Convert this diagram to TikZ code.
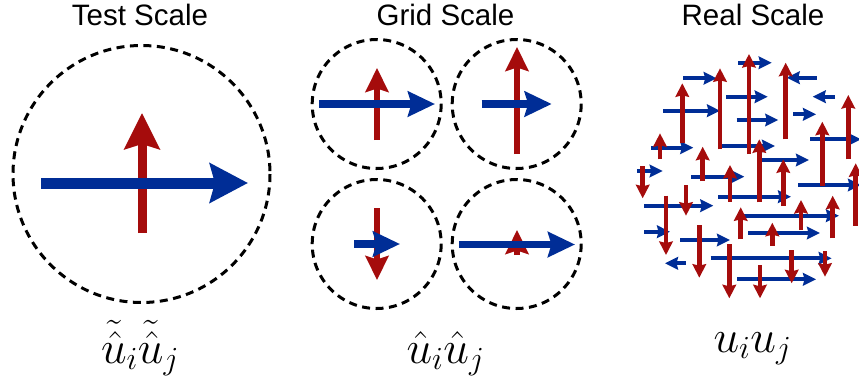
\RequirePackage{fix-cm}
\documentclass[tikz,border=0pt]{standalone}
\usepackage{fontspec}
\newfontfamily\headfont{Liberation Sans}
\usetikzlibrary{arrows.meta}
\definecolor{arrred}{RGB}{165,12,12}
\definecolor{arrblue}{RGB}{0,45,150}
\tikzset{
  dashcirc/.style={draw=black, line width=3pt, dash pattern=on 8pt off 5.5pt},
  title/.style={anchor=base, inner sep=0pt, font=\headfont\fontsize{29.5}{32}\selectfont},
  mathlab/.style={anchor=base, inner sep=0pt, font=\fontsize{46}{50}\selectfont},
  testblue/.style={draw=arrblue, line width=11pt, -{Stealth[length=38pt,width=39pt,inset=5pt]}},
  testred/.style={draw=arrred, line width=9pt, -{Stealth[length=36pt,width=35pt,inset=5pt]}},
  gridblue/.style={draw=arrblue, line width=7.5pt, -{Stealth[length=27pt,width=25pt,inset=3.5pt]}},
  gridred/.style={draw=arrred, line width=6.5pt, -{Stealth[length=24pt,width=23pt,inset=3.5pt]}},
  realblue/.style={draw=arrblue, line width=4pt, -{Stealth[length=13pt,width=12.5pt,inset=1.5pt]}},
  realred/.style={draw=arrred, line width=4.5pt, -{Stealth[length=13.5pt,width=13.5pt,inset=1.5pt]}},
}
\begin{document}
\begin{tikzpicture}[x=1pt,y=-1pt]
\useasboundingbox (0,0) rectangle (859,381);
\clip (0,0) rectangle (859,381);
% titles
\node[title] (t1) at (140,25) {Test Scale};
\node[title] (t2) at (445.5,25) {Grid Scale};
\node[title] (t3) at (753,25) {Real Scale};
% labels
\node[mathlab] (l1) at (140,363) {$\tilde{\hat{u}}_i\tilde{\hat{u}}_j$};
\node[mathlab] (l2) at (445.5,363) {$\hat{u}_i\hat{u}_j$};
\node[mathlab] (l3) at (752.5,352) {$u_iu_j$};
% test scale
\draw[dashcirc] (141.5,174) circle (128.5);
\draw[testred] (142,233) -- (142,113);
\draw[testblue] (41,183) -- (248,183);
% grid scale
\draw[dashcirc] (376.7,104) circle (64.5);
\draw[dashcirc] (516.7,104) circle (64.5);
\draw[dashcirc] (376.7,244) circle (64.5);
\draw[dashcirc] (516.7,244) circle (64.5);
\draw[gridred] (377,140) -- (377,68);
\draw[gridblue] (319,104) -- (435,104);
\draw[gridred] (517,154) -- (517,47);
\draw[gridblue] (481.7,104) -- (551.7,104);
\draw[gridred] (377,208) -- (377,280);
\draw[gridblue] (354,244) -- (400,244);
\draw[gridred] (517,255) -- (517,230);
\draw[gridblue] (459,244.5) -- (575,244.5);
% real scale
\foreach \xa/\xb/\yy in {738.3/771.7/62.7, 683.3/716.7/78.3, 816.7/786.7/77.7,
  726/767.7/96.7, 835/812.7/96.7, 663.3/720/110.7, 736.7/778.3/120,
  793.3/816/114.3, 810/861/139.3, 720/775/146, 651/693.3/147.7,
  761.7/809/160, 637.3/662.7/171, 691/744.3/176.7, 798.3/861/185,
  718.3/791/196.7, 644/713.3/205.7, 743.3/839/215.7, 644/670/231.7,
  748.3/820/233, 680/730/240, 710.7/831.7/258.3, 685.7/665/263.3,
  737.3/816/279.3}
  \draw[realblue] (\xa,\yy) -- (\xb,\yy);
\foreach \xx/\ya/\yb in {749/154/54, 720/149.3/68.3, 785.7/139.3/62.7,
  682.3/143.3/83.3, 848.3/159.3/95, 660/159.3/133.3, 702.7/181/146.7,
  822.3/186/121.7, 759.3/202.3/139.3, 730/201.7/165, 783.3/206/159.3,
  855.7/225.7/163.3, 740.7/239.3/207.3, 801/230/200, 832.7/238.3/195.7,
  772.3/245.7/222.7,
  642.7/166/198.3, 686/185/215.7, 666/195.7/255, 699.3/225/277.7,
  729.3/244.3/298.3, 760/265/298.3, 791.7/250/283.3, 825/251/276.7}
  \draw[realred] (\xx,\ya) -- (\xx,\yb);
\end{tikzpicture}
\end{document}
